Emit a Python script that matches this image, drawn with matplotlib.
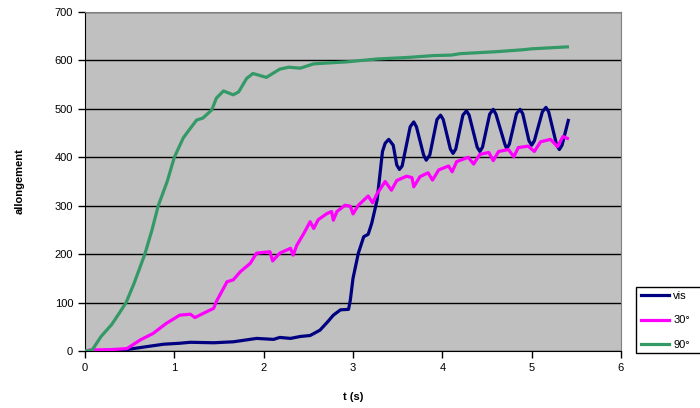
import matplotlib
matplotlib.use("Agg")
import matplotlib.pyplot as plt
from matplotlib.patches import Rectangle

plt.rcParams['font.family'] = ['Liberation Sans', 'DejaVu Sans']

# vis
t_vis = [0.0, 0.2, 0.43, 0.69, 0.88, 1.06, 1.18, 1.44, 1.66, 1.81, 1.92, 2.11, 2.18, 2.30, 2.41, 2.52,
         2.63, 2.72, 2.78, 2.86, 2.95, 2.97, 3.00, 3.06, 3.12, 3.17, 3.21, 3.27, 3.33, 3.36, 3.40, 3.45,
         3.49, 3.52, 3.55, 3.64, 3.68, 3.71, 3.79, 3.82, 3.86, 3.94, 3.98, 4.01, 4.09, 4.12, 4.15,
         4.23, 4.27, 4.30, 4.39, 4.42, 4.45, 4.53, 4.57, 4.60, 4.70, 4.72, 4.75, 4.83, 4.87, 4.90,
         4.97, 5.00, 5.03, 5.12, 5.16, 5.19, 5.28, 5.31, 5.34, 5.41]
y_vis = [0, 1, 2, 9, 14, 16, 18, 17, 19, 23, 26, 24, 28, 26, 30, 32,
         43, 61, 74, 85, 86, 105, 150, 202, 236, 241, 264, 312, 412, 429, 437, 425,
         384, 375, 382, 463, 473, 463, 405, 394, 405, 478, 487, 478, 417, 408, 417,
         487, 496, 487, 421, 412, 421, 489, 499, 489, 427, 418, 427, 490, 499, 490,
         434, 425, 434, 494, 503, 494, 425, 416, 425, 476]

# 30°
t_30 = [0.0, 0.06, 0.3, 0.47, 0.62, 0.76, 0.91, 1.06, 1.18, 1.23, 1.36, 1.44, 1.47, 1.59, 1.66, 1.74,
        1.85, 1.92, 2.07, 2.10, 2.18, 2.30, 2.33, 2.37, 2.45, 2.52, 2.56, 2.61, 2.71, 2.76, 2.78,
        2.82, 2.91, 2.97, 3.00, 3.06, 3.17, 3.22, 3.27, 3.36, 3.43, 3.49, 3.60, 3.66, 3.68, 3.75,
        3.84, 3.89, 3.96, 4.07, 4.11, 4.16, 4.29, 4.35, 4.42, 4.52, 4.57, 4.63, 4.74, 4.80, 4.85,
        4.96, 5.03, 5.10, 5.21, 5.29, 5.35, 5.40]
y_30 = [0, 2, 3, 5, 23, 36, 57, 74, 76, 69, 81, 88, 102, 143, 147, 164,
        181, 202, 205, 186, 202, 212, 198, 218, 243, 267, 253, 271, 284, 288, 270,
        288, 301, 299, 283, 301, 320, 306, 325, 350, 332, 352, 361, 358, 339, 360,
        368, 353, 374, 382, 370, 391, 400, 386, 406, 410, 393, 412, 416, 401, 420,
        423, 412, 432, 437, 422, 443, 439]

# 90°
t_90 = [0.0, 0.08, 0.18, 0.30, 0.39, 0.46, 0.55, 0.67, 0.75, 0.82, 0.92, 1.0, 1.10, 1.18, 1.25, 1.32,
        1.42, 1.47, 1.55, 1.66, 1.72, 1.81, 1.88, 2.03, 2.18, 2.28, 2.41, 2.56, 2.93, 3.27,
        3.60, 3.90, 4.10, 4.20, 4.60, 4.90, 5.00, 5.20, 5.40]
y_90 = [0, 2, 30, 55, 80, 100, 140, 200, 250, 300, 350, 400, 440, 460, 477, 481,
        498, 522, 537, 529, 535, 563, 573, 565, 582, 586, 584, 593, 597, 603,
        606, 610, 611, 614, 618, 622, 624, 626, 628]

fig = plt.figure(figsize=(7.0, 4.08), dpi=100)
ax = fig.add_axes([85/700, 57/408, 536/700, 339/408])
ax.set_facecolor('#C0C0C0')

ax.plot(t_vis, y_vis, color='#000080', lw=2.3, label='vis', zorder=3)
ax.plot(t_30, y_30, color='#FF00FF', lw=2.3, label='30°', zorder=3)
ax.plot(t_90, y_90, color='#339966', lw=2.3, label='90°', zorder=3)

ax.set_xlim(0, 6)
ax.set_ylim(0, 700)
ax.set_xticks(range(0, 7))
ax.set_yticks(range(0, 701, 100))
ax.yaxis.grid(True, color='black', lw=1)
ax.set_axisbelow(True)
ax.tick_params(direction='out', length=5, width=1, labelsize=8, colors='black')
for s in ['top', 'right']:
    ax.spines[s].set_color('#808080')
for s in ['left', 'bottom']:
    ax.spines[s].set_color('black')

ax.set_xlabel('t (s)', fontsize=8, fontweight='bold', labelpad=14)
ax.set_ylabel('allongement', fontsize=8, fontweight='bold', labelpad=22)

# legend box (extends past right edge as in the reference)
fig.patches.append(Rectangle((636/700, 1 - 353/408), 80/700, 66/408,
                             transform=fig.transFigure, facecolor='white',
                             edgecolor='black', lw=1, zorder=1))
leg = fig.legend(loc='upper left', bbox_to_anchor=(636/700, 1 - 286/408), fontsize=8,
                 frameon=False, handlelength=2.5, borderpad=0.45, labelspacing=1.3,
                 handletextpad=0.4, borderaxespad=0)
leg.set_zorder(2)

fig.savefig('out.png', dpi=100)
